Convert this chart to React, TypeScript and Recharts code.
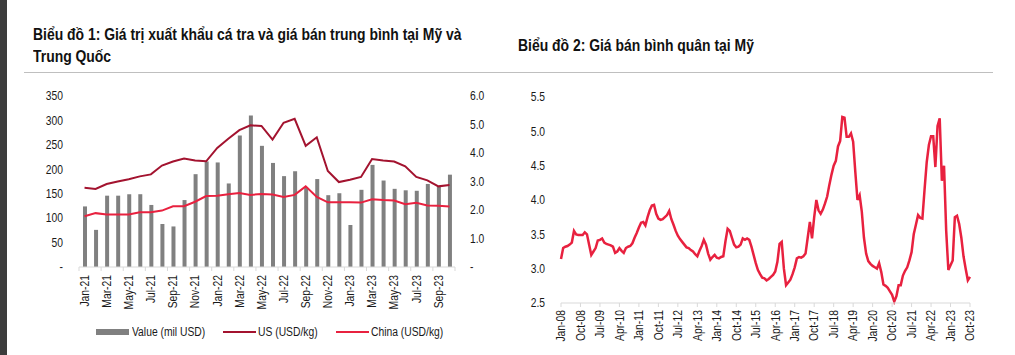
import React from "react";
import { Bar, ComposedChart, Line, LineChart, XAxis, YAxis } from "recharts";

const FONT = "'Liberation Sans Narrow', 'Arial Narrow', 'Liberation Sans', Arial, sans-serif";
const NARROW = 0.86;

// Biểu đồ 1
const exportMonths = [
  "Jan-21", "Feb-21", "Mar-21", "Apr-21", "May-21", "Jun-21", "Jul-21", "Aug-21", "Sep-21", "Oct-21", "Nov-21", "Dec-21",
  "Jan-22", "Feb-22", "Mar-22", "Apr-22", "May-22", "Jun-22", "Jul-22", "Aug-22", "Sep-22", "Oct-22", "Nov-22", "Dec-22",
  "Jan-23", "Feb-23", "Mar-23", "Apr-23", "May-23", "Jun-23", "Jul-23", "Aug-23", "Sep-23", "Oct-23",
];
const exportValue = [
  124, 76, 146, 146, 149, 149, 127, 88, 83, 137, 190, 216,
  214, 171, 269, 310, 248, 213, 186, 196, 162, 180, 147, 151,
  86, 158, 209, 177, 160, 157, 156, 170, 164, 189,
];
const usPriceShort = [
  2.78, 2.74, 2.91, 3.0, 3.08, 3.18, 3.25, 3.56, 3.7, 3.81, 3.74, 3.71,
  4.18, 4.5, 4.8, 4.97, 4.95, 4.47, 5.06, 5.2, 4.25, 4.55, 3.37, 2.98,
  3.06, 3.16, 3.79, 3.74, 3.7, 3.53, 3.16, 3.04, 2.83, 2.88,
];
const chinaPrice = [
  1.78, 1.89, 1.84, 1.84, 1.84, 1.92, 1.92, 1.98, 2.13, 2.13, 2.29, 2.49,
  2.5, 2.55, 2.6, 2.53, 2.56, 2.54, 2.46, 2.53, 2.83, 2.46, 2.27, 2.27,
  2.27, 2.26, 2.38, 2.35, 2.33, 2.2, 2.25, 2.16, 2.15, 2.12,
];
const leftTicks = [0, 50, 100, 150, 200, 250, 300, 350];
const rightTicks = [0, 1, 2, 3, 4, 5, 6];

// Biểu đồ 2
const monthNames = ["Jan", "Feb", "Mar", "Apr", "May", "Jun", "Jul", "Aug", "Sep", "Oct", "Nov", "Dec"];
const years = ["08", "09", "10", "11", "12", "13", "14", "15", "16", "17", "18", "19", "20", "21", "22", "23"];
const usPrice = [
  3.14, 3.3, 3.32, 3.33, 3.35, 3.38, 3.55, 3.5, 3.49, 3.49, 3.49, 3.53,
  3.5, 3.35, 3.2, 3.25, 3.3, 3.41, 3.42, 3.44, 3.38, 3.36, 3.35, 3.34,
  3.32, 3.23, 3.25, 3.3, 3.26, 3.23, 3.3, 3.32, 3.33, 3.37, 3.45, 3.52,
  3.6, 3.67, 3.68, 3.63, 3.75, 3.85, 3.92, 3.93, 3.8, 3.73, 3.71, 3.72,
  3.75, 3.78, 3.84, 3.72, 3.64, 3.55, 3.48, 3.43, 3.39, 3.35, 3.31, 3.3,
  3.27, 3.25, 3.21, 3.18, 3.26, 3.33, 3.42, 3.35, 3.22, 3.13, 3.17, 3.2,
  3.16, 3.15, 3.17, 3.18, 3.4, 3.58, 3.55, 3.45, 3.35, 3.31, 3.32, 3.35,
  3.44, 3.42, 3.44, 3.42, 3.32, 3.2, 3.08, 2.98, 2.92, 2.87, 2.86, 2.83,
  2.85, 2.88, 2.91, 2.96, 3.1, 3.36, 3.39, 3.0, 2.76, 2.8, 2.84, 2.92,
  3.02, 3.15, 3.17, 3.16, 3.18, 3.22, 3.45, 3.68, 3.44, 3.75, 4.0, 3.85,
  3.8, 3.86, 3.95, 4.05, 4.22, 4.37, 4.5, 4.57, 4.78, 4.86, 5.21, 5.2,
  4.92, 4.92, 4.97, 4.85, 4.41, 4.0, 4.07, 3.83, 3.45, 3.22, 3.11, 3.07,
  3.04, 3.02, 3.0, 3.08, 2.95, 2.77, 2.75, 2.72, 2.67, 2.62, 2.52, 2.6,
  2.76, 2.76, 2.9, 2.97, 3.02, 3.12, 3.24, 3.5, 3.64, 3.78, 3.74, 3.73,
  4.15, 4.55, 4.8, 4.93, 4.93, 4.48, 5.08, 5.19, 4.28, 4.5, 3.55, 2.98,
  3.05, 3.12, 3.75, 3.77, 3.65, 3.45, 3.18, 3.0, 2.83, 2.88,
];
const priceTicks = [
  "Jan-08", "Oct-08", "Jul-09", "Apr-10", "Jan-11", "Oct-11", "Jul-12", "Apr-13", "Jan-14", "Oct-14", "Jul-15",
  "Apr-16", "Jan-17", "Oct-17", "Jul-18", "Apr-19", "Jan-20", "Oct-20", "Jul-21", "Apr-22", "Jan-23", "Oct-23",
];
const priceYTicks = [2.5, 3.0, 3.5, 4.0, 4.5, 5.0, 5.5];

const exportData = exportMonths.map((m, i) => ({
  month: m,
  value: exportValue[i],
  us: usPriceShort[i],
  china: chinaPrice[i],
}));

const priceMonths = years.flatMap((y) => monthNames.map((m) => `${m}-${y}`)).slice(0, usPrice.length);
const priceData = priceMonths.map((m, i) => ({ month: m, price: usPrice[i] }));

const BAR_GRAY = "#808080";
const US_RED = "#A3132F";
const CHINA_RED = "#E8213F";
const AXIS_GRAY = "#d9d9d9";
const TEXT = "#1a1a1a";
const BAND = 376 / exportMonths.length;

// rotated, slightly condensed category label hanging below the axis
function rotatedLabel(x: number, y: number, value: string) {
  return (
    <text
      transform={`translate(${x} ${y}) rotate(-90) scale(${NARROW} 1)`}
      textAnchor="end"
      dominantBaseline="central"
      fontSize={12}
      fontFamily={FONT}
      fill={TEXT}
    >
      {value}
    </text>
  );
}

function ExportTick(props: any) {
  const { x, y, payload, index } = props;
  const last = index === exportMonths.length - 1;
  return (
    <g>
      {index % 2 === 0 && <line x1={x - BAND / 2} x2={x - BAND / 2} y1={y} y2={y + 4} stroke={AXIS_GRAY} />}
      {last && <line x1={x + BAND / 2} x2={x + BAND / 2} y1={y} y2={y + 4} stroke={AXIS_GRAY} />}
      {index % 2 === 0 && rotatedLabel(x, y + 8, payload.value)}
    </g>
  );
}

function PriceTick(props: any) {
  const { x, y, payload } = props;
  return rotatedLabel(x, y, payload.value);
}

function ValueTick(props: any) {
  const { x, y, payload, textAnchor, fmt } = props;
  return (
    <text
      transform={`translate(${x} ${y}) scale(${NARROW} 1)`}
      textAnchor={textAnchor}
      dominantBaseline="central"
      fontSize={12}
      fontFamily={FONT}
      fill={TEXT}
    >
      {fmt(payload.value)}
    </text>
  );
}

const dashZero = (v: number) => (v === 0 ? "-" : String(v));
const dashZeroFixed = (v: number) => (v === 0 ? "-" : v.toFixed(1));
const fixed1 = (v: number) => v.toFixed(1);

const titleStyle: React.CSSProperties = {
  position: "absolute",
  fontFamily: FONT,
  fontWeight: 700,
  fontSize: 16,
  lineHeight: "22px",
  color: "#111",
  whiteSpace: "nowrap",
  transform: "scaleX(0.87)",
  transformOrigin: "left top",
};

const legendText: React.CSSProperties = {
  position: "absolute",
  top: 0,
  whiteSpace: "nowrap",
  transform: `scaleX(${NARROW})`,
  transformOrigin: "left center",
  lineHeight: "14px",
};

export default function App() {
  return (
    <div style={{ position: "absolute", left: 0, top: 0, width: 1015, height: 355, background: "#fff", overflow: "hidden" }}>
      <div style={{ position: "absolute", left: 0, top: 0, width: 7, height: 355, background: "#3c3c3c" }} />
      <div style={{ ...titleStyle, left: 33, top: 24 }}>
        Biểu đồ 1: Giá trị xuất khẩu cá tra và giá bán trung bình tại Mỹ và
        <br />
        Trung Quốc
      </div>
      <div style={{ ...titleStyle, left: 518, top: 35 }}>Biểu đồ 2: Giá bán bình quân tại Mỹ</div>
      <div style={{ position: "absolute", left: 24, top: 72, width: 969, height: 1, background: "#bfbfbf" }} />

      <div style={{ position: "absolute", left: 0, top: 80 }}>
        <ComposedChart width={500} height={235} data={exportData} margin={{ top: 16, right: 0, left: 0, bottom: 0 }}>
          <XAxis
            dataKey="month"
            interval={0}
            tick={<ExportTick />}
            tickLine={false}
            tickSize={0}
            tickMargin={0}
            height={48}
            axisLine={{ stroke: AXIS_GRAY }}
          />
          <YAxis
            yAxisId="left"
            width={79}
            domain={[0, 350]}
            ticks={leftTicks}
            axisLine={false}
            tickLine={false}
            tickMargin={10}
            tick={<ValueTick fmt={dashZero} />}
          />
          <YAxis
            yAxisId="right"
            orientation="right"
            width={45}
            domain={[0, 6]}
            ticks={rightTicks}
            axisLine={false}
            tickLine={false}
            tickMargin={9}
            tick={<ValueTick fmt={dashZeroFixed} />}
          />
          <Bar yAxisId="left" dataKey="value" name="Value (mil USD)" fill={BAR_GRAY} barSize={4} isAnimationActive={false} />
          <Line yAxisId="right" dataKey="us" name="US (USD/kg)" stroke={US_RED} strokeWidth={2} dot={false} type="linear" isAnimationActive={false} />
          <Line yAxisId="right" dataKey="china" name="China (USD/kg)" stroke={CHINA_RED} strokeWidth={2} dot={false} type="linear" isAnimationActive={false} />
        </ComposedChart>
      </div>

      <div style={{ position: "absolute", left: 0, top: 325, width: 500, height: 14, fontFamily: FONT, fontSize: 12, color: TEXT }}>
        <span style={{ position: "absolute", left: 96, top: 4, width: 33, height: 6, background: BAR_GRAY }} />
        <span style={{ ...legendText, left: 132 }}>Value (mil USD)</span>
        <span style={{ position: "absolute", left: 223, top: 6, width: 33, height: 2, background: US_RED }} />
        <span style={{ ...legendText, left: 258 }}>US (USD/kg)</span>
        <span style={{ position: "absolute", left: 336, top: 6, width: 33, height: 2, background: CHINA_RED }} />
        <span style={{ ...legendText, left: 371 }}>China (USD/kg)</span>
      </div>

      <div style={{ position: "absolute", left: 500, top: 85 }}>
        <LineChart width={515} height={266} data={priceData} margin={{ top: 12, right: 45, left: 0, bottom: 0 }}>
          <XAxis
            dataKey="month"
            ticks={priceTicks}
            interval={0}
            tick={<PriceTick />}
            tickSize={4}
            tickMargin={3}
            height={48}
            axisLine={{ stroke: AXIS_GRAY }}
            tickLine={{ stroke: AXIS_GRAY }}
          />
          <YAxis
            width={61}
            domain={[2.5, 5.5]}
            ticks={priceYTicks}
            axisLine={false}
            tickLine={false}
            tickMargin={10}
            tick={<ValueTick fmt={fixed1} />}
          />
          <Line dataKey="price" stroke={CHINA_RED} strokeWidth={2.5} dot={false} type="linear" isAnimationActive={false} />
        </LineChart>
      </div>
    </div>
  );
}
